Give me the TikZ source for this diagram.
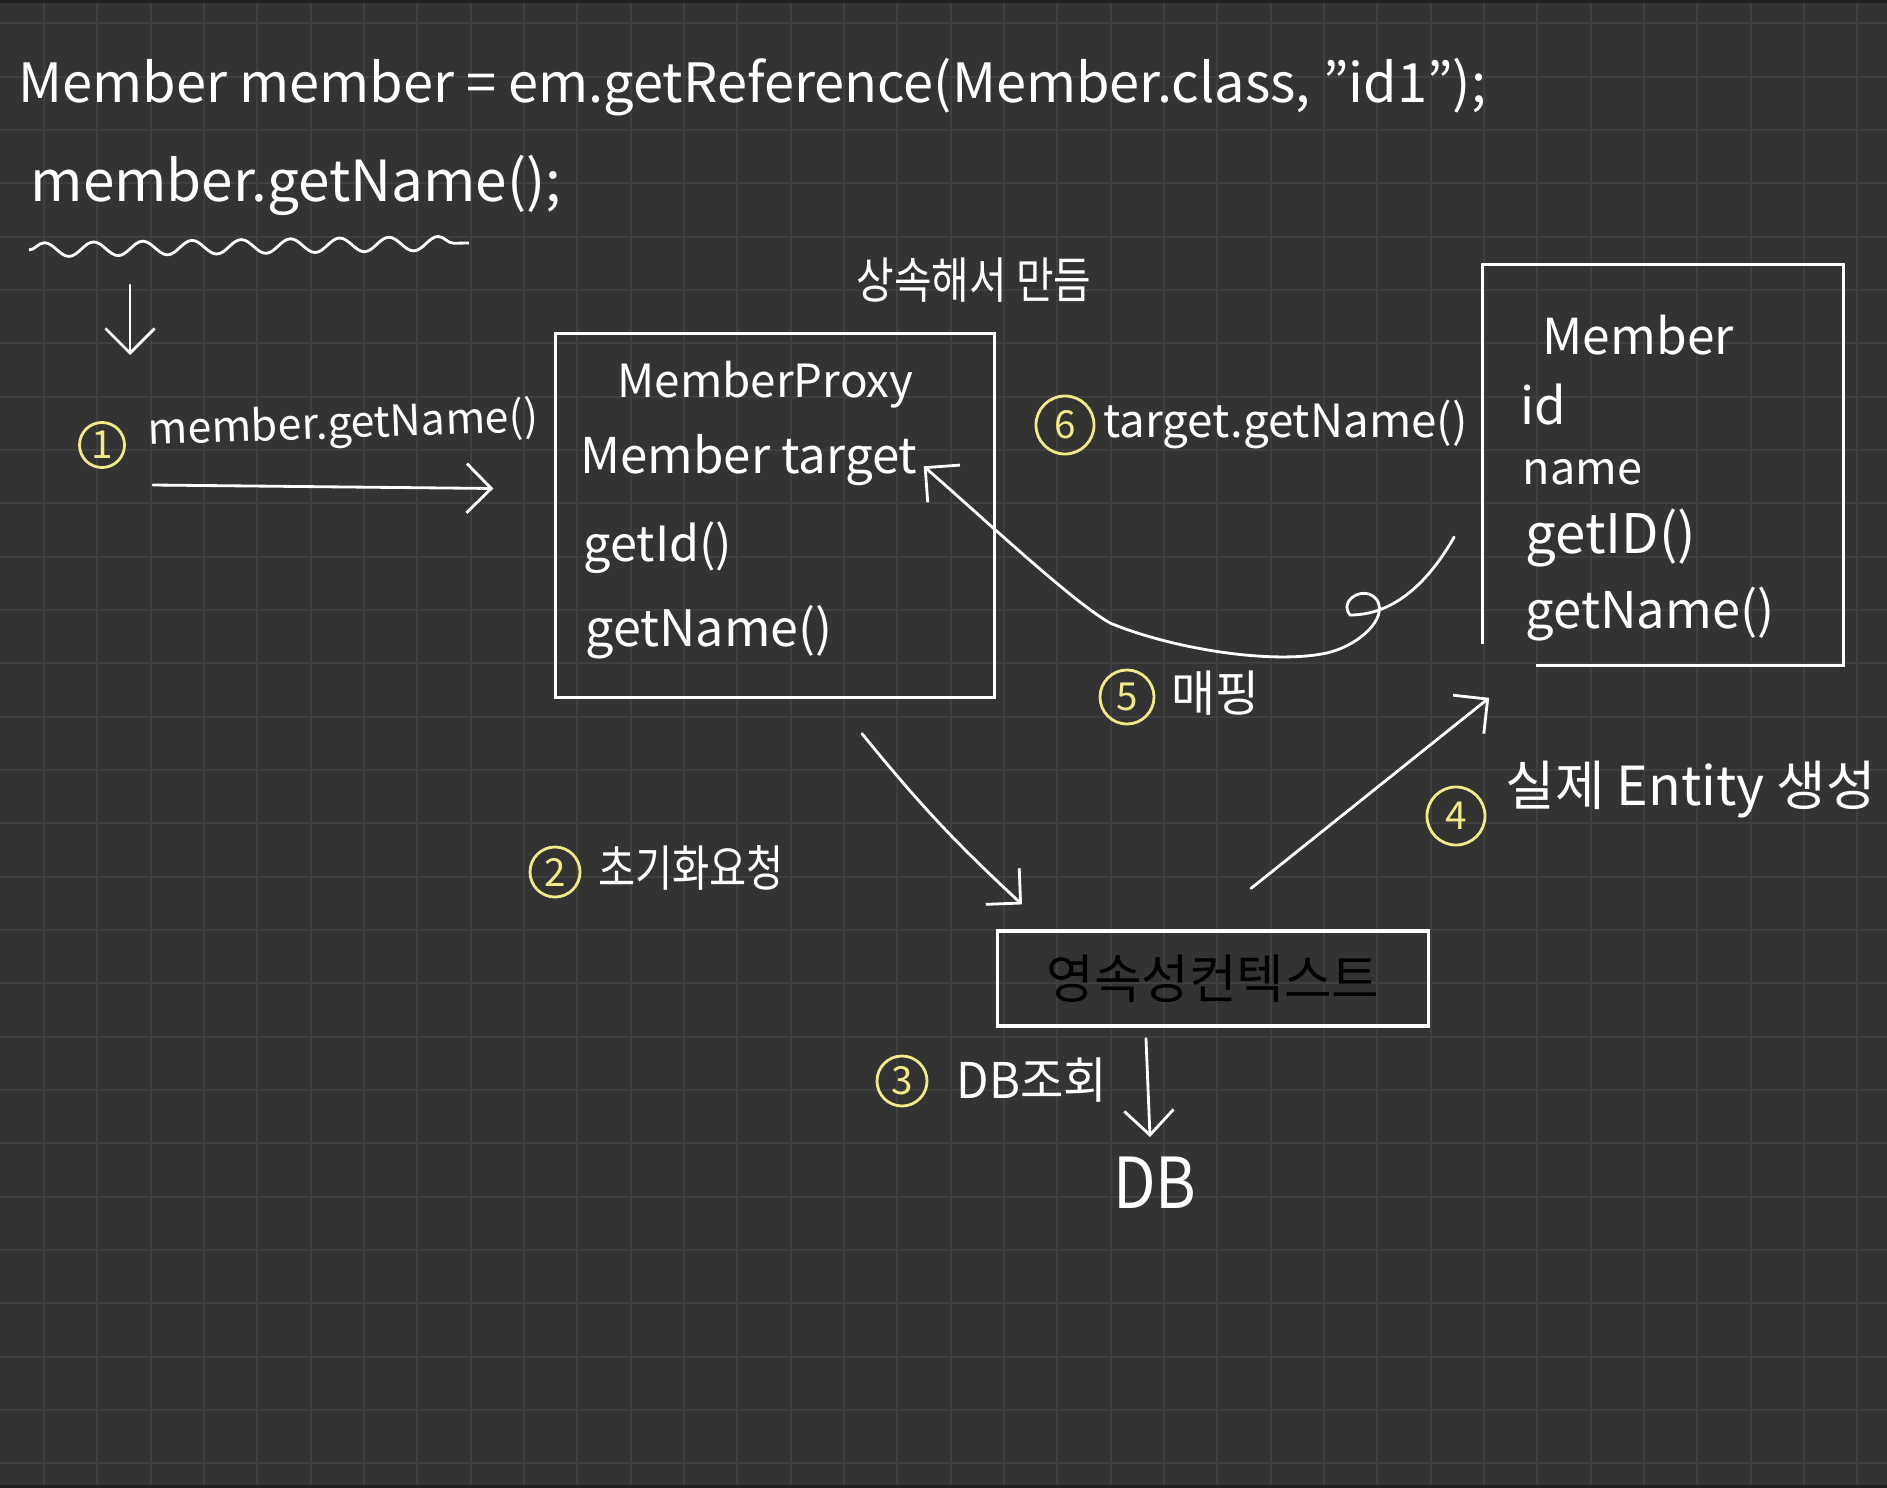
\documentclass[tikz,border=0pt]{standalone}
\usepackage{fontspec}
\usepackage{graphicx}
\setmainfont{Noto Sans CJK KR}
\usetikzlibrary{arrows.meta,calc,positioning,decorations.pathmorphing}

\definecolor{board}{HTML}{333333}
\definecolor{gridline}{HTML}{3F3F3F}
\definecolor{boardedge}{HTML}{222222}
\definecolor{marker}{HTML}{F2E98A}
\newcommand{\handsize}[1]{\fontsize{#1}{#1}\selectfont}

\begin{document}
\begin{tikzpicture}[x=0.01cm, y=-0.01cm,
    hand/.style={text=white, inner sep=0pt, anchor=base west},
    kor/.style={text=white, inner sep=0pt, font=\handsize{14pt}},
    num/.style={circle, draw=marker, text=marker, line width=0.8pt, minimum size=0.5cm, inner sep=0pt, font=\handsize{11pt}},
    box/.style={draw=white, line width=0.9pt, rectangle, inner sep=0pt},
    arr/.style={white, line width=0.8pt, line cap=round, -{Straight Barb[length=7pt, width=14pt]}}
]
    % board with grid
    \useasboundingbox (0,0) rectangle (1887,1488);
    \fill[board] (0,0) rectangle (1887,1488);
    \foreach \i in {0,...,34}
        \draw[gridline, line width=0.6pt] ({44+53.333*\i},0) -- ({44+53.333*\i},1488);
    \foreach \j in {0,...,27}
        \draw[gridline, line width=0.6pt] (0,{23.333+53.333*\j}) -- (1887,{23.333+53.333*\j});
    \fill[boardedge] (0,0) rectangle (1887,3);
    \fill[boardedge] (0,1485) rectangle (1887,1488);

    % code lines
    \node[hand, font=\handsize{15.4pt}] (code1) at (18,103) {Member member = em.getReference(Member.class, "id1");};
    \node[hand, font=\handsize{16.1pt}] (code2) at (30,202) {member.getName();};
    \draw[white, line width=0.8pt, decorate, decoration={snake, amplitude=2pt, segment length=14pt}]
        ($(code2.base west)+(-1,48)$) -- ($(code2.base west)+(439,41)$);

    % step 1
    \node[num, minimum size=0.45cm] (n1) at (102,445) {1};
    \node[hand, font=\handsize{12.2pt}, rotate=2] (call1) at (148,445) {member.getName()};
    \draw[arr] ($(code2.base west)+(100,83)$) -- ($(n1.center)+(28,-90)$);

    % proxy
    \node[box, minimum width=4.38cm, minimum height=3.63cm] (proxy) at (775,515.5) {};
    \node[hand, font=\handsize{13pt}] (ptitle) at (617,398) {MemberProxy};
    \node[hand, font=\handsize{14pt}] (ptarget) at (580,473) {Member target};
    \node[hand, font=\handsize{13.8pt}] (pgetid) at (583,561) {getId()};
    \node[hand, font=\handsize{14.3pt}] (pgetname) at (585,646) {getName()};
    \node[kor, xscale=.83] (inherit) at (974,280) {상속해서 만듬};
    \draw[arr] ($(n1.center)+(51,40)$) -- ($(proxy.west)+(-61,-27)$);

    % member entity
    \node[minimum width=3.6cm, minimum height=4.0cm, inner sep=0pt] (member) at (1663,465) {};
    \draw[white, line width=0.9pt] ($(member.south west)+(0,-22)$) -- (member.north west)
        -- (member.north east) -- (member.south east) -- ($(member.south west)+(54,0)$);
    \node[hand, font=\handsize{14.1pt}] (mtitle) at (1542,354) {Member};
    \node[hand, font=\handsize{14.5pt}] (mid) at (1520,425) {id};
    \node[hand, font=\handsize{12.8pt}] (mname) at (1522,485) {name};
    \node[hand, font=\handsize{15.5pt}] (mgetid) at (1525,553) {getID()};
    \node[hand, font=\handsize{14.4pt}] (mgetname) at (1525,628) {getName()};

    % step 6 and 5
    \node[num, minimum size=0.58cm] (n6) at (1065,425) {6};
    \node[hand, font=\handsize{13pt}] (call6) at (1103,438) {target.getName()};
    \node[num, minimum size=0.54cm] (n5) at (1127,697) {5};
    \node[kor, xscale=.97] (mapping) at (1215,693) {매핑};
    \draw[arr] ($(member.west)+(-28,72)$) .. controls (1425,588) and (1390,615) .. (1350,615)
        .. controls (1338,600) and (1365,584) .. (1377,600)
        .. controls (1388,618) and (1360,645) .. (1327,653)
        .. controls (1270,665) and (1170,648) .. (1110,623)
        .. controls (1070,600) and (980,515) .. ($(proxy.north east)+(-72,134)$);

    % step 2
    \node[num] (n2) at (555,872) {2};
    \node[kor, xscale=.82] (init) at (691,868) {초기화요청};

    % persistence context
    \node[box, minimum width=4.3cm, minimum height=0.95cm] (ctx) at (1213,978.5) {\handsize{15pt}\scalebox{.98}[1]{영속성컨텍스트}};
    \draw[arr] ($(proxy.south)+(87,35)$) to[bend right=4] ($(ctx.north)+(-191,-25)$);

    % step 3
    \node[num] (n3) at (902,1081) {3};
    \node[kor, xscale=.96] (dbquery) at (1032,1080) {DB조회};
    \node[kor, font=\handsize{20pt}, xscale=.88] (db) at (1155,1183) {DB};
    \draw[arr] ($(ctx.south)+(-67,11)$) -- ($(db.center)+(-5,-46)$);

    % step 4
    \node[num, minimum size=0.58cm] (n4) at (1456,816) {4};
    \node[kor, anchor=west, font=\handsize{15.3pt}] (entity) at (1505,790) {실제 Entity 생성};
    \draw[arr] ($(ctx.north)+(38,-41)$) -- ($(member.south west)+(7,32)$);
\end{tikzpicture}
\end{document}
